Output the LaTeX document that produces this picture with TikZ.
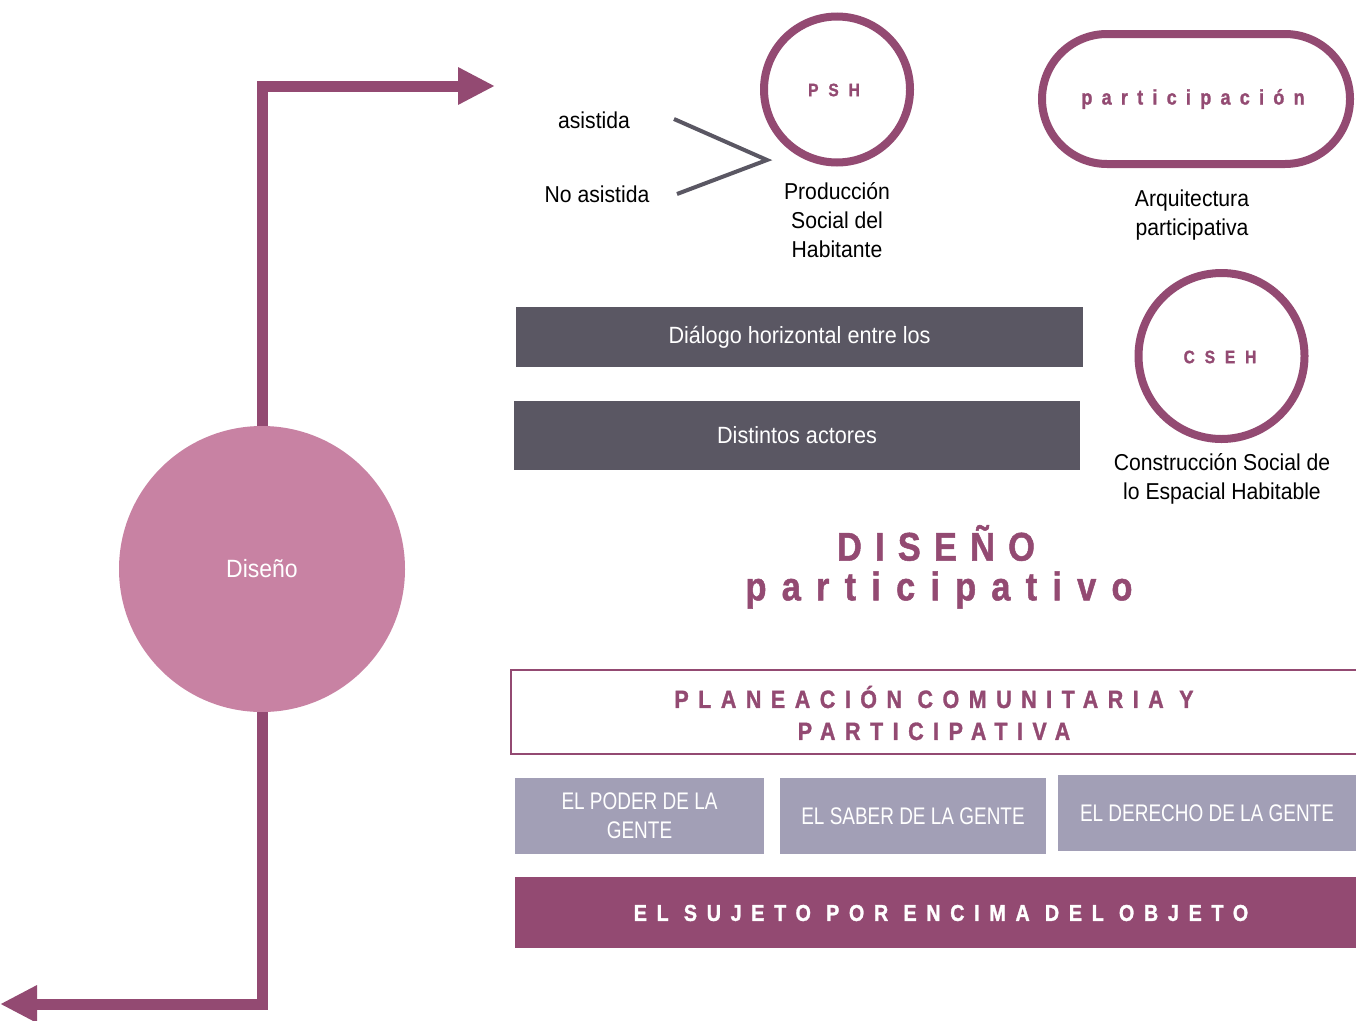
\documentclass[tikz,border=0pt]{standalone}
\usepackage{fontspec}
\setmainfont{Liberation Sans}[FakeStretch=0.92]
\newfontfamily\condfont{Liberation Sans}[FakeStretch=0.79]
\newfontfamily\trkA{Liberation Sans Bold}[FakeStretch=0.86, LetterSpace=55, FakeBold=1.2]
\newfontfamily\trkB{Liberation Sans Bold}[FakeStretch=0.86, LetterSpace=44, FakeBold=1.2]
\newfontfamily\trkC{Liberation Sans Bold}[FakeStretch=0.86, LetterSpace=33, FakeBold=1.2]
\newfontfamily\trkE{Liberation Sans Bold}[FakeStretch=0.86, LetterSpace=38, FakeBold=1.2]
\newfontfamily\trkD{Liberation Sans Bold}[FakeStretch=0.86, LetterSpace=42, FakeBold=1.2]
\usetikzlibrary{arrows.meta,shapes.misc}
\definecolor{plum}{RGB}{147,74,114}
\definecolor{rose}{RGB}{200,130,163}
\definecolor{slate}{RGB}{90,87,99}
\definecolor{lav}{RGB}{162,159,182}
\tikzset{
  lbl/.style={font=\fontsize{23}{29}\selectfont, align=center, text=black, inner sep=0pt},
  ring/.style={circle, draw=plum, line width=8pt, inner sep=0pt, outer sep=0pt},
  darkbox/.style={rectangle, fill=slate, text=white, inner sep=0pt, font=\fontsize{23.5}{28}\selectfont},
  lavbox/.style={rectangle, fill=lav, text=white, inner sep=0pt, align=center, font=\condfont\fontsize{24}{29}\selectfont},
  bigarrow/.style={draw=plum, line width=11pt, line join=miter, -{Triangle[length=37pt,width=35pt]}},
  thinline/.style={draw=slate, line width=4pt},
}
\begin{document}
\begin{tikzpicture}[x=1pt,y=-1pt]
\useasboundingbox[fill=white] (0,0) rectangle (1356,1020);

% Diseño circle
\node[circle, fill=rose, minimum size=286pt, inner sep=0pt, text=white, font=\fontsize{25}{30}\selectfont] (dis) at (262,569) {Diseño};

% arrows
\coordinate (topc) at (262,86);
\coordinate (topend) at (495,86);
\coordinate (botc) at (262,1004);
\coordinate (botend) at (0,1004);
\draw[bigarrow] (dis.north) -- (topc) -- (topend);
\draw[bigarrow] (dis.south) -- (botc) -- (botend);

% PSH
\node[ring, minimum size=146pt] (psh) at (837,89.5) {};
\node[text=plum, font=\trkA\fontsize{18}{22}\selectfont] (pshl) at (834,90) {PSH};
\node[lbl] (prod) at (837,220) {Producción\\Social del\\Habitante};

\node[lbl] (asis) at (594,120) {asistida};
\node[lbl] (noasis) at (597,194) {No asistida};
\coordinate (la) at (674,119);
\coordinate (lv) at (767,160);
\coordinate (lb) at (677,194);
\draw[thinline] (la) -- (lv) -- (lb);

% participación
\node[rounded rectangle, draw=plum, line width=8pt, minimum width=308pt, minimum height=130pt, inner sep=0pt] (part) at (1196,99) {};
\node[text=plum, font=\trkB\fontsize{21}{26}\selectfont] (partl) at (1193,99) {participación};
\node[lbl] (arq) at (1192,215.5) {Arquitectura\\participativa};

% dark boxes
\node[darkbox, minimum width=567pt, minimum height=60pt] (dial) at (799.5,337) {Diálogo horizontal entre los};
\node[darkbox, minimum width=566pt, minimum height=69pt] (dist) at (797,435.5) {Distintos actores};

% CSEH
\node[ring, minimum size=166pt] (cseh) at (1221.5,356) {};
\node[text=plum, font=\trkA\fontsize{18}{22}\selectfont] (csehl) at (1220,357) {CSEH};
\node[lbl] (cons) at (1222,478.5) {Construcción Social de\\lo Espacial Habitable};

% Diseño participativo title
\node[text=plum, font=\trkC\fontsize{40}{46}\selectfont] (t1) at (936,543) {DISEÑO};
\node[text=plum, font=\trkE\fontsize{40}{46}\selectfont] (t2) at (939,590) {participativo};

% Planeación box
\node[rectangle, draw=plum, line width=2pt, minimum width=851pt, minimum height=84pt, inner sep=0pt] (plan) at (936.5,712) {};
\node[text=plum, align=center, font=\trkE\fontsize{25}{32}\selectfont] (planl) at (934,713) {PLANEACIÓN COMUNITARIA Y\\PARTICIPATIVA};

% lavender boxes
\node[lavbox, minimum width=249pt, minimum height=76pt] (poder) at (639.5,816) {EL PODER DE LA\\GENTE};
\node[lavbox, minimum width=266pt, minimum height=76pt] (saber) at (913,816) {EL SABER DE LA GENTE};
\node[lavbox, minimum width=298pt, minimum height=76pt] (derecho) at (1207,813) {EL DERECHO DE LA GENTE};

% sujeto box
\node[rectangle, fill=plum, minimum width=841pt, minimum height=71pt, inner sep=0pt] (suj) at (935.5,912.5) {};
\node[text=white, font=\trkD\fontsize{23}{26}\selectfont] (sujl) at (941,913) {EL SUJETO POR ENCIMA DEL OBJETO};
\end{tikzpicture}
\end{document}
